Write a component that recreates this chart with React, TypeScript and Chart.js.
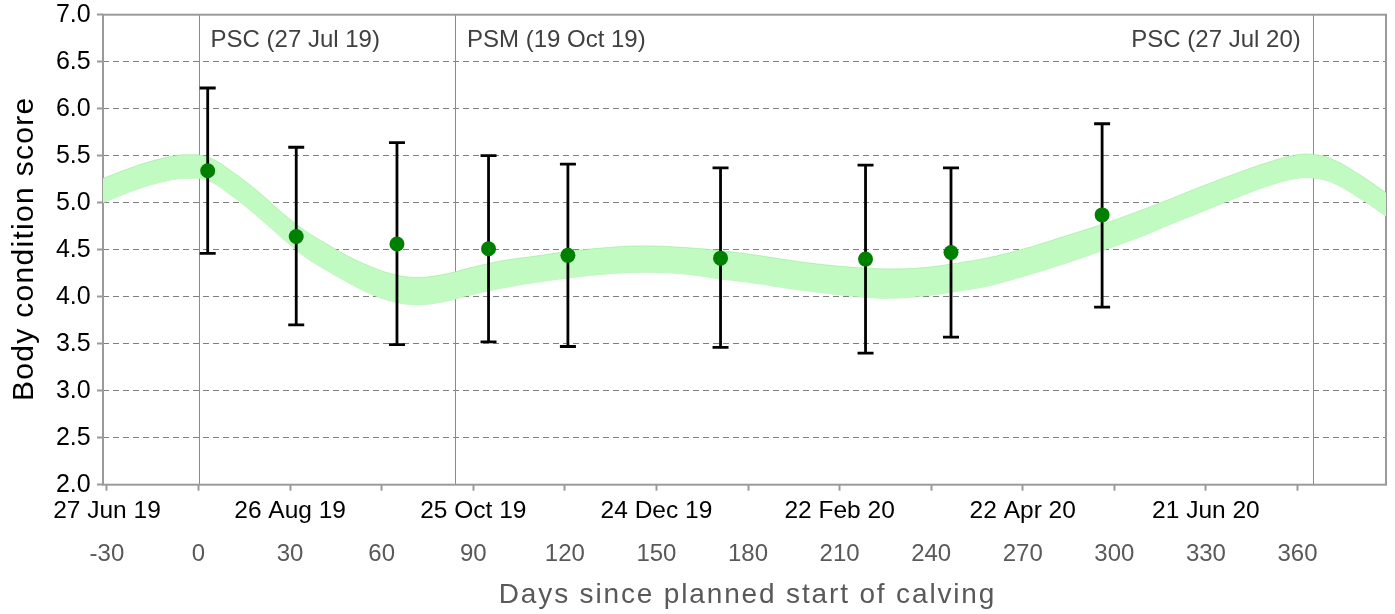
import React, { useEffect, useRef } from 'react';
import { Chart, registerables } from 'chart.js';

Chart.register(...registerables);

const FONT = '"Liberation Sans", Arial, Helvetica, sans-serif';

// Observed means with error bars
const obsDays = [3, 32, 65, 95, 121, 171, 218.5, 246.5, 296];
const obsMean = [5.34, 4.64, 4.56, 4.51, 4.44, 4.41, 4.4, 4.47, 4.87];
const obsHigh = [6.22, 5.59, 5.64, 5.5, 5.41, 5.37, 5.4, 5.37, 5.84];
const obsLow = [4.46, 3.7, 3.49, 3.52, 3.47, 3.46, 3.4, 3.57, 3.89];

// Target band (upper and lower edges)
const bandDays = [-32, -20, -10, -4, 3, 11, 20, 28, 35, 42, 49, 56, 63, 71, 80, 90, 100, 110, 121, 133, 145, 158, 171, 183, 193, 205, 218, 228, 238, 247, 258, 270, 283, 296, 308, 318, 328, 339, 350, 360, 366, 372, 380, 390];
const bandUpper = [5.25, 5.395, 5.485, 5.51, 5.485, 5.33, 5.105, 4.875, 4.7, 4.56, 4.43, 4.325, 4.245, 4.205, 4.235, 4.315, 4.385, 4.43, 4.48, 4.52, 4.54, 4.525, 4.49, 4.44, 4.39, 4.34, 4.305, 4.295, 4.31, 4.35, 4.41, 4.505, 4.635, 4.77, 4.91, 5.035, 5.165, 5.3, 5.425, 5.51, 5.51, 5.455, 5.305, 5.085];
const bandLower = [4.99, 5.145, 5.235, 5.26, 5.235, 5.07, 4.835, 4.605, 4.42, 4.28, 4.15, 4.035, 3.955, 3.915, 3.945, 4.025, 4.095, 4.15, 4.2, 4.24, 4.26, 4.245, 4.19, 4.14, 4.09, 4.04, 3.995, 3.985, 4.01, 4.05, 4.11, 4.215, 4.345, 4.49, 4.63, 4.765, 4.895, 5.04, 5.175, 5.26, 5.26, 5.205, 5.055, 4.835];

// Axes
const xMin = -31.3;
const xMax = 389;
const dayTicks = [-30, 0, 30, 60, 90, 120, 150, 180, 210, 240, 270, 300, 330, 360];
const dateTickDays = [-30, 30, 90, 150, 210, 270, 330];
const dateTickLabels = ['27 Jun 19', '26 Aug 19', '25 Oct 19', '24 Dec 19', '22 Feb 20', '22 Apr 20', '21 Jun 20'];
const yTicks = [2.0, 2.5, 3.0, 3.5, 4.0, 4.5, 5.0, 5.5, 6.0, 6.5, 7.0];

// Event markers
const eventDays = [0, 84, 365];
const eventLabels = ['PSC (27 Jul 19)', 'PSM (19 Oct 19)', 'PSC (27 Jul 20)'];
const eventAlign = ['left', 'left', 'right'];

const xTitle = 'Days since planned start of calving';
const yTitle = 'Body condition score';

const overlayPlugin = {
  id: 'overlay',
  beforeDatasetsDraw(chart: any) {
    const { ctx, chartArea: a, scales } = chart;
    ctx.save();
    // event lines
    ctx.strokeStyle = '#8c8c8c';
    ctx.lineWidth = 1;
    eventDays.forEach((d) => {
      const x = Math.round(scales.x.getPixelForValue(d)) + 0.5;
      ctx.beginPath();
      ctx.moveTo(x, a.top);
      ctx.lineTo(x, a.bottom);
      ctx.stroke();
    });
    // plot frame
    ctx.strokeStyle = '#9a9a9a';
    ctx.lineWidth = 2;
    ctx.strokeRect(a.left, a.top, a.right - a.left, a.bottom - a.top);
    // event labels
    ctx.fillStyle = '#404040';
    ctx.font = `24px ${FONT}`;
    ctx.textBaseline = 'alphabetic';
    eventDays.forEach((d, i) => {
      const x = scales.x.getPixelForValue(d);
      if (eventAlign[i] === 'left') {
        ctx.textAlign = 'left';
        ctx.fillText(eventLabels[i], x + 12, a.top + 32.5);
      } else {
        ctx.textAlign = 'right';
        ctx.fillText(eventLabels[i], x - 12, a.top + 32.5);
      }
    });
    ctx.restore();
  },
  beforeDatasetDraw(chart: any, args: any) {
    if (args.index !== 0) return;
    const { ctx, scales } = chart;
    ctx.save();
    ctx.strokeStyle = '#000000';
    ctx.lineWidth = 2.8;
    obsDays.forEach((d, i) => {
      const x = scales.x.getPixelForValue(d);
      const yHi = scales.y.getPixelForValue(obsHigh[i]);
      const yLo = scales.y.getPixelForValue(obsLow[i]);
      ctx.beginPath();
      ctx.moveTo(x, yHi);
      ctx.lineTo(x, yLo);
      ctx.moveTo(x - 8, yHi);
      ctx.lineTo(x + 8, yHi);
      ctx.moveTo(x - 8, yLo);
      ctx.lineTo(x + 8, yLo);
      ctx.stroke();
    });
    ctx.restore();
  },
  afterDraw(chart: any) {
    const { ctx, chartArea: a } = chart;
    ctx.save();
    // x title
    ctx.fillStyle = '#595959';
    ctx.font = `28px ${FONT}`;
    (ctx as any).letterSpacing = '1.85px';
    ctx.textAlign = 'center';
    ctx.textBaseline = 'alphabetic';
    ctx.fillText(xTitle, (a.left + a.right) / 2 + 3, 603);
    // y title
    ctx.fillStyle = '#000000';
    ctx.font = `30px ${FONT}`;
    (ctx as any).letterSpacing = '1.3px';
    ctx.translate(33, (a.top + a.bottom) / 2 - 1);
    ctx.rotate(-Math.PI / 2);
    ctx.fillText(yTitle, 0, 0);
    ctx.restore();
  },
};

export default function App() {
  const canvasRef = useRef<HTMLCanvasElement | null>(null);

  useEffect(() => {
    document.body.style.margin = '0';
    const canvas = canvasRef.current;
    if (!canvas) return;

    const chart = new Chart(canvas, {
      type: 'line',
      data: {
        datasets: [
          {
            type: 'scatter',
            label: 'Observed',
            data: obsDays.map((d, i) => ({ x: d, y: obsMean[i] })),
            backgroundColor: '#008000',
            borderColor: '#008000',
            pointRadius: 7.5,
            pointHoverRadius: 7.5,
            pointBorderWidth: 0,
            showLine: false,
          } as any,
          {
            label: 'Target upper',
            data: bandDays.map((d, i) => ({ x: d, y: bandUpper[i] })),
            borderColor: 'rgba(150, 235, 150, 0.6)',
            borderWidth: 1,
            backgroundColor: '#c2fbc2',
            pointRadius: 0,
            tension: 0.4,
            fill: '+1',
          },
          {
            label: 'Target lower',
            data: bandDays.map((d, i) => ({ x: d, y: bandLower[i] })),
            borderColor: 'rgba(150, 235, 150, 0.6)',
            borderWidth: 1,
            backgroundColor: '#c2fbc2',
            pointRadius: 0,
            tension: 0.4,
            fill: false,
          },
        ],
      },
      options: {
        responsive: false,
        animation: false,
        devicePixelRatio: 1,
        layout: { padding: { top: 14.7, right: 9, left: 0, bottom: 0 } },
        plugins: {
          legend: { display: false },
          tooltip: { enabled: false },
        },
        events: [],
        scales: {
          x: {
            type: 'linear',
            position: 'bottom',
            weight: 0,
            min: xMin,
            max: xMax,
            afterBuildTicks: (scale: any) => {
              scale.ticks = dayTicks.map((v) => ({ value: v }));
            },
            afterFit: (scale: any) => {
              scale.height = 45;
            },
            ticks: {
              autoSkip: false,
              maxRotation: 0,
              padding: 5.6,
              color: '#000000',
              font: { family: FONT, size: 24.5, lineHeight: 1.2 },
              callback: (v: any) => {
                const idx = dateTickDays.indexOf(Number(v));
                return idx >= 0 ? dateTickLabels[idx] : '';
              },
            },
            grid: {
              drawOnChartArea: false,
              drawTicks: true,
              tickLength: 6,
              tickColor: '#9a9a9a',
              tickWidth: 2,
              color: '#9a9a9a',
            },
            border: { display: false },
          },
          x2: {
            type: 'linear',
            position: 'bottom',
            weight: 1,
            min: xMin,
            max: xMax,
            afterBuildTicks: (scale: any) => {
              scale.ticks = dayTicks.map((v) => ({ value: v }));
            },
            afterFit: (scale: any) => {
              scale.height = 614 - 484.7 - 45;
            },
            ticks: {
              autoSkip: false,
              maxRotation: 0,
              padding: 10.5,
              color: '#595959',
              font: { family: FONT, size: 24, lineHeight: 1.2 },
              callback: (v: any) => String(v),
            },
            grid: { display: false, drawTicks: false },
            border: { display: false },
          },
          y: {
            type: 'linear',
            min: 2,
            max: 7,
            afterBuildTicks: (scale: any) => {
              scale.ticks = yTicks.map((v) => ({ value: v }));
            },
            afterFit: (scale: any) => {
              scale.width = 103;
              scale.paddingTop = 0;
              scale.paddingBottom = 0;
            },
            ticks: {
              padding: 6.3,
              color: '#000000',
              font: { family: FONT, size: 25, lineHeight: 0.6 },
              callback: (v: any) => Number(v).toFixed(1),
            },
            grid: {
              color: '#7f7f7f',
              lineWidth: 1,
              tickLength: 6,
              tickColor: '#9a9a9a',
              tickWidth: 2,
            },
            border: { display: false, dash: [6, 4] },
          },
        },
      } as any,
      plugins: [overlayPlugin],
    });

    return () => {
      chart.destroy();
    };
  }, []);

  return (
    <div style={{ width: 1395, height: 614 }}>
      <canvas ref={canvasRef} width={1395} height={614} style={{ display: 'block' }} />
    </div>
  );
}
